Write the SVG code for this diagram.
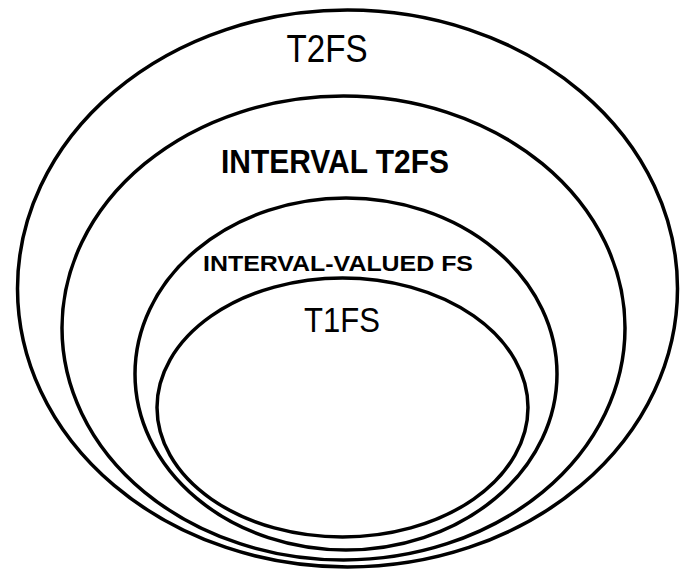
<svg xmlns="http://www.w3.org/2000/svg" width="690" height="569" viewBox="0 0 690 569">
  <style>
    .set { fill: none; stroke: #000; stroke-width: 3.5; }
    .lbl { font-family: "Liberation Sans", Arial, sans-serif; fill: #000; text-anchor: middle; }
    .reg { font-weight: normal; }
    .bold { font-weight: bold; }
  </style>
  <rect x="0" y="0" width="690" height="569" fill="#fff"/>
  <g id="connectors"/>
  <g id="t2fs">
    <ellipse class="set" cx="347.5" cy="288.5" rx="330" ry="278.5"/>
    <text class="lbl reg" x="327" y="62" font-size="38" textLength="81" lengthAdjust="spacingAndGlyphs">T2FS</text>
  </g>
  <g id="interval-t2fs">
    <ellipse class="set" cx="343.5" cy="328" rx="281.5" ry="232"/>
    <text class="lbl bold" x="335" y="173" font-size="33" textLength="228" lengthAdjust="spacingAndGlyphs">INTERVAL T2FS</text>
  </g>
  <g id="interval-valued-fs">
    <ellipse class="set" cx="346" cy="374" rx="211" ry="176"/>
    <text class="lbl bold" x="338" y="271" font-size="22" textLength="270" lengthAdjust="spacingAndGlyphs">INTERVAL-VALUED FS</text>
  </g>
  <g id="t1fs">
    <ellipse class="set" cx="342.5" cy="407.5" rx="185.5" ry="129.5"/>
    <text class="lbl reg" x="342" y="332" font-size="35" textLength="76" lengthAdjust="spacingAndGlyphs">T1FS</text>
  </g>
</svg>
